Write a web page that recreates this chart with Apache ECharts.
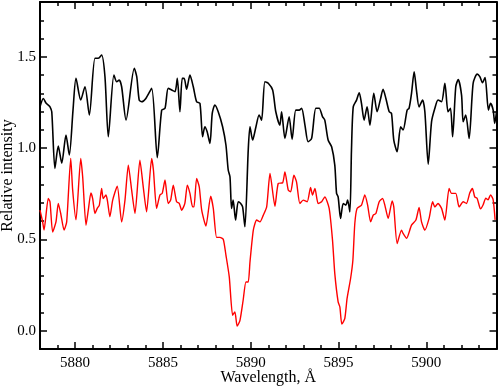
<!DOCTYPE html>
<html>
<head>
<meta charset="utf-8">
<script src="https://cdn.jsdelivr.net/npm/echarts@6/dist/echarts.min.js"></script>
<style>html,body{margin:0;padding:0;background:#fff}#c{width:498px;height:386px}</style>
</head>
<body>
<div id="c"></div>
<script>
var blackWl = [5878.00,5878.19,5878.34,5878.47,5878.57,5878.67,5878.85,5879.04,5879.24,5879.48,5879.67,5879.88,5880.05,5880.32,5880.56,5880.81,5881.13,5881.32,5881.51,5881.70,5881.89,5882.21,5882.37,5882.51,5882.65,5882.90,5883.37,5883.51,5883.65,5883.79,5884.03,5884.36,5884.68,5884.93,5885.12,5885.30,5885.50,5885.69,5885.82,5885.97,5886.10,5886.21,5886.35,5886.54,5886.73,5886.92,5887.11,5887.26,5887.39,5887.52,5887.68,5887.81,5887.96,5888.15,5888.40,5888.59,5888.72,5888.82,5888.91,5889.00,5889.14,5889.29,5889.43,5889.54,5889.67,5889.86,5889.96,5890.11,5890.30,5890.48,5890.62,5890.81,5891.00,5891.25,5891.43,5891.66,5891.76,5891.95,5892.19,5892.36,5892.57,5892.76,5892.90,5893.09,5893.27,5893.47,5893.71,5893.90,5894.09,5894.22,5894.41,5894.61,5894.79,5894.89,5894.98,5895.12,5895.27,5895.42,5895.52,5895.65,5895.74,5895.84,5896.03,5896.18,5896.31,5896.46,5896.63,5896.79,5897.01,5897.20,5897.40,5897.54,5897.70,5897.89,5898.02,5898.15,5898.34,5898.54,5898.68,5898.91,5899.02,5899.16,5899.31,5899.44,5899.59,5899.79,5899.92,5900.11,5900.30,5900.49,5900.67,5900.87,5901.06,5901.24,5901.38,5901.50,5901.68,5901.82,5902.01,5902.10,5902.25,5902.44,5902.67,5902.90,5903.05,5903.20,5903.35,5903.54,5903.66,5903.81,5903.90,5904.00];
var blackI = [1.226,1.272,1.247,1.236,1.226,1.199,0.889,1.011,0.918,1.071,0.962,1.208,1.382,1.263,1.336,1.181,1.492,1.492,1.510,1.391,1.062,1.400,1.363,1.373,1.336,1.154,1.437,1.391,1.263,1.254,1.272,1.327,0.948,1.208,1.218,1.327,1.318,1.309,1.382,1.199,1.382,1.382,1.322,1.400,1.336,1.254,1.245,1.062,1.117,1.089,1.026,1.190,1.236,1.199,1.117,1.017,0.880,0.843,0.670,0.715,0.606,0.706,0.697,0.678,0.569,0.989,1.117,1.044,1.117,1.181,1.153,1.363,1.355,1.318,1.199,1.126,1.199,1.053,1.172,1.048,1.208,1.208,1.218,1.126,1.035,1.053,1.218,1.218,1.172,1.153,1.044,1.007,0.907,0.752,0.733,0.615,0.697,0.688,0.715,0.651,0.989,1.226,1.263,1.303,1.245,1.153,1.226,1.126,1.300,1.199,1.272,1.322,1.272,1.199,1.190,1.044,0.980,1.117,1.099,1.208,1.218,1.300,1.418,1.318,1.226,1.263,1.199,0.912,1.144,1.218,1.263,1.254,1.355,1.199,1.218,1.062,1.336,1.376,1.290,1.144,1.181,1.053,1.355,1.405,1.391,1.358,1.387,1.208,1.245,1.208,1.135,1.199];
var redWl = [5878.00,5878.15,5878.23,5878.47,5878.57,5878.72,5878.91,5879.04,5879.18,5879.37,5879.52,5879.75,5879.86,5880.05,5880.32,5880.43,5880.62,5880.75,5880.90,5881.00,5881.13,5881.26,5881.38,5881.51,5881.60,5881.76,5881.85,5881.98,5882.14,5882.40,5882.65,5882.84,5883.03,5883.22,5883.41,5883.69,5883.88,5884.07,5884.36,5884.46,5884.64,5884.83,5884.96,5885.12,5885.30,5885.44,5885.59,5885.78,5885.93,5886.07,5886.25,5886.39,5886.54,5886.69,5886.77,5886.92,5887.07,5887.21,5887.45,5887.72,5887.87,5888.06,5888.25,5888.44,5888.59,5888.78,5888.97,5889.10,5889.23,5889.39,5889.57,5889.73,5889.86,5889.96,5890.15,5890.34,5890.53,5890.72,5890.91,5891.10,5891.38,5891.57,5891.82,5891.95,5892.14,5892.28,5892.46,5892.61,5892.80,5892.99,5893.22,5893.41,5893.52,5893.66,5893.84,5894.04,5894.22,5894.47,5894.66,5894.79,5894.98,5895.08,5895.19,5895.36,5895.49,5895.69,5895.82,5895.93,5896.06,5896.31,5896.50,5896.66,5896.83,5896.98,5897.13,5897.32,5897.51,5897.64,5897.83,5898.06,5898.15,5898.34,5898.59,5898.68,5898.88,5899.16,5899.41,5899.59,5899.73,5899.92,5900.16,5900.36,5900.49,5900.67,5900.87,5901.06,5901.30,5901.44,5901.68,5901.87,5902.10,5902.29,5902.48,5902.63,5902.76,5902.90,5903.09,5903.24,5903.39,5903.52,5903.66,5903.81,5903.92];
var redI = [0.660,0.596,0.551,0.724,0.706,0.541,0.596,0.697,0.642,0.551,0.596,0.944,0.771,0.607,0.944,0.843,0.578,0.660,0.755,0.724,0.642,0.670,0.688,0.779,0.724,0.743,0.706,0.624,0.715,0.792,0.596,0.715,0.907,0.770,0.642,0.934,0.788,0.651,0.944,0.880,0.670,0.743,0.752,0.825,0.697,0.715,0.797,0.706,0.697,0.660,0.697,0.797,0.752,0.678,0.678,0.834,0.788,0.660,0.573,0.737,0.670,0.511,0.511,0.500,0.414,0.295,0.085,0.103,0.025,0.057,0.167,0.267,0.267,0.377,0.551,0.606,0.596,0.633,0.678,0.861,0.682,0.807,0.810,0.870,0.770,0.761,0.852,0.815,0.697,0.715,0.706,0.785,0.743,0.779,0.697,0.706,0.733,0.670,0.496,0.313,0.158,0.130,0.036,0.067,0.177,0.286,0.386,0.587,0.670,0.688,0.743,0.688,0.596,0.633,0.642,0.706,0.724,0.688,0.615,0.711,0.678,0.478,0.551,0.533,0.506,0.578,0.606,0.675,0.596,0.551,0.615,0.706,0.678,0.697,0.670,0.606,0.779,0.752,0.752,0.678,0.706,0.697,0.755,0.779,0.733,0.724,0.667,0.690,0.726,0.717,0.744,0.717,0.607];
var xMajorTicks = [5880,5885,5890,5895,5900];
var xMinorTicks = [5879,5881,5882,5883,5884,5886,5887,5888,5889,5891,5892,5893,5894,5896,5897,5898,5899,5901,5902,5903];
var yMajorTicks = [0.0,0.5,1.0,1.5];
var yMinorTicks = [0.1,0.2,0.3,0.4,0.6,0.7,0.8,0.9,1.1,1.2,1.3,1.4,1.6,1.7];
var xTitle = 'Wavelength, Å';
var yTitle = 'Relative intensity';

function zip(a,b){var r=[];for(var i=0;i<a.length;i++)r.push([a[i],b[i]]);return r;}
var FONT='"Liberation Serif", "DejaVu Serif", serif';
var XMIN=5878,XMAX=5904,YMIN=-0.1,YMAX=1.8;
function xAx(pos, ticks, len, showLine, showLabel){
  return {type:'value',position:pos,min:XMIN,max:XMAX,
    axisLine:{show:showLine,onZero:false,lineStyle:{color:'#000',width:2}},
    axisTick:{show:true,inside:true,length:len,customValues:ticks,lineStyle:{color:'#000',width:1.5}},
    axisLabel:{show:showLabel,customValues:ticks,color:'#000',fontFamily:FONT,fontSize:15,margin:7,
      formatter:function(v){return String(v);}},
    splitLine:{show:false},
    name: showLabel?xTitle:'',nameLocation:'middle',nameGap:21,nameMoveOverlap:false,
    nameTextStyle:{color:'#000',fontFamily:FONT,fontSize:16}};
}
function yAx(pos, ticks, len, showLine, showLabel){
  return {type:'value',position:pos,min:YMIN,max:YMAX,
    axisLine:{show:showLine,onZero:false,lineStyle:{color:'#000',width:2}},
    axisTick:{show:true,inside:true,length:len,customValues:ticks,lineStyle:{color:'#000',width:1.5}},
    axisLabel:{show:showLabel,customValues:ticks,color:'#000',fontFamily:FONT,fontSize:15,margin:4,
      formatter:function(v){return v.toFixed(1);}},
    splitLine:{show:false},
    name: showLabel?yTitle:'',nameLocation:'middle',nameGap:24,nameMoveOverlap:false,
    nameTextStyle:{color:'#000',fontFamily:FONT,fontSize:16}};
}
var chart = echarts.init(document.getElementById('c'),null,{renderer:'canvas'});
chart.setOption({
  animation:false,
  backgroundColor:'#fff',
  grid:{left:40,right:1.5,top:2,bottom:37,containLabel:false,outerBoundsMode:'none'},
  xAxis:[xAx('bottom',xMajorTicks,7,true,true),xAx('bottom',xMinorTicks,4,false,false),
         xAx('top',xMajorTicks,7,true,false),xAx('top',xMinorTicks,4,false,false)],
  yAxis:[yAx('left',yMajorTicks,7,true,true),yAx('left',yMinorTicks,4,false,false),
         yAx('right',yMajorTicks,7,true,false),yAx('right',yMinorTicks,4,false,false)],
  series:[
    {type:'line',name:'black',data:zip(blackWl,blackI),xAxisIndex:0,yAxisIndex:0,showSymbol:false,smooth:0.25,
     lineStyle:{color:'#000',width:1.6},z:3},
    {type:'line',name:'red',data:zip(redWl,redI),xAxisIndex:0,yAxisIndex:0,showSymbol:false,smooth:0.2,
     lineStyle:{color:'#ff0000',width:1.4},z:2}
  ]
});
</script>
</body>
</html>
